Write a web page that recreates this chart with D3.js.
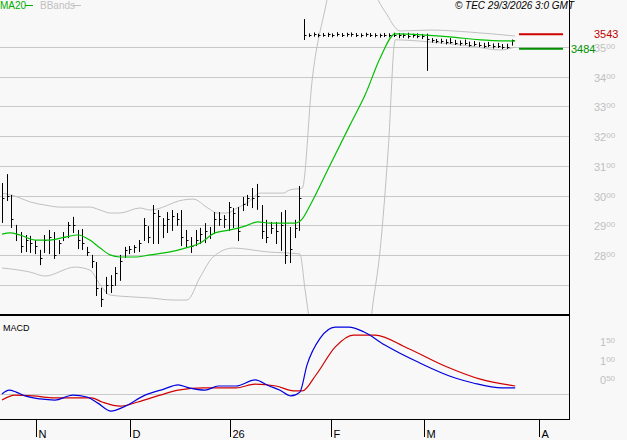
<!DOCTYPE html>
<html><head><meta charset="utf-8">
<script src="https://cdn.jsdelivr.net/npm/d3@7/dist/d3.min.js"></script>
<style>body{margin:0;background:#f8f8f8}svg{display:block;font-family:"Liberation Sans",Arial,sans-serif}</style>
</head><body><svg id="c" width="627" height="440"></svg>
<script>
const highs=[3042,3072,3002,2901,2877,2867,2864,2850,2817,2867,2884,2877,2850,2877,2911,2928,2884,2887,2827,2800,2776,2689,2726,2732,2759,2800,2827,2830,2833,2850,2924,2897,2968,2951,2924,2944,2951,2941,2951,2884,2860,2884,2891,2907,2894,2944,2944,2934,2978,2958,2961,2995,3002,3025,3039,2968,2918,2911,2911,2944,2951,2894,2918,3032,
3594,3546,3549,3545,3547,3548,3546,3550,3547,3548,3549,3547,3546,3548,3547,3546,3545,3547,3546,3548,3547,3546,3548,3545,3546,3544,
3545,3530,3527,3528,3526,3530,3524,3522,3525,3518,3520,3516,3514,3517,3512,3514,3510,3511,3525];
const lows=[2911,2985,2894,2850,2810,2813,2810,2806,2769,2810,2806,2790,2806,2850,2860,2877,2823,2820,2800,2759,2665,2628,2672,2675,2699,2716,2793,2806,2810,2813,2850,2843,2840,2840,2860,2877,2884,2901,2833,2830,2810,2833,2840,2843,2857,2874,2901,2894,2884,2894,2850,2951,2968,2961,2955,2857,2843,2874,2840,2817,2773,2776,2860,2884,
3527,3537,3538,3536,3538,3537,3536,3539,3537,3538,3538,3537,3536,3538,3537,3536,3535,3537,3536,3537,3533,3534,3532,3535,3533,3530,
3423,3518,3516,3515,3512,3514,3510,3508,3510,3504,3506,3503,3500,3503,3498,3500,3496,3497,3508];
const closes=[2990,3000,2920,2870,2830,2850,2840,2830,2790,2850,2860,2800,2840,2860,2900,2900,2850,2840,2810,2780,2690,2650,2700,2700,2740,2780,2815,2820,2825,2840,2900,2860,2940,2930,2900,2920,2930,2920,2860,2850,2830,2850,2870,2880,2870,2920,2920,2920,2960,2940,2880,2970,2990,2990,3000,2880,2860,2890,2880,2900,2800,2820,2890,2990,
3540,3542,3543,3541,3542,3543,3541,3544,3542,3543,3543,3542,3541,3543,3542,3541,3540,3542,3541,3542,3540,3539,3538,3540,3538,3536,
3528,3522,3520,3519,3516,3518,3514,3512,3514,3508,3510,3507,3504,3507,3502,3504,3500,3501,3522];
const ma20=[[0,2870],[1.7,2874],[3.8,2867],[7,2850],[10.2,2850],[13.3,2860],[16.1,2867],[18.6,2850],[20.8,2823],[22.9,2800],[25,2793],[28.2,2793],[31.4,2800],[35.6,2810],[38.8,2823],[42,2840],[45.1,2874],[48.3,2884],[51.5,2897],[54.2,2911],[56.8,2907],[60,2907],[62.1,2907],[63.6,2921],[65.3,2968],[69.5,3103],[73.7,3237],[76.9,3338],[80.1,3463],[83.3,3544],[89.6,3540],[94.9,3534],[101.3,3524],[108.7,3520]];
const bbUpper=[[0,3008],[2.75,2998],[6,2978],[9.1,2968],[12.3,2961],[18.6,2961],[20.8,2951],[22.9,2941],[25,2941],[29.2,2958],[31.4,2951],[38.4,2985],[40.5,2988],[43.6,2958],[45.6,2941],[47.7,2941],[49.8,2958],[51.9,2975],[54.7,3008],[59.5,3008],[61,3019],[63.6,3025],[65.7,3389],[68.4,3625],[70.6,3760],[73.7,3800],[81.1,3620],[84.3,3554],[90.7,3557],[99.2,3550],[108.7,3537]];
const bbLower=[[0,2756],[6,2742],[9.1,2729],[15.5,2759],[18.6,2749],[20.8,2699],[22.9,2665],[28.2,2658],[31.4,2655],[36.2,2648],[39.2,2648],[42,2726],[44.7,2793],[49,2823],[56.2,2810],[63.1,2803],[64.2,2682],[65.3,2560],[70,2300],[76.3,2300],[78.4,2614],[80.1,2817],[81.8,3153],[83.3,3524],[90.7,3517],[99.2,3503],[105.5,3490],[108.7,3500]];
const macd=[[0,0],[1.5,10],[3,5],[4.9,-5],[8.1,-13],[11.2,-16],[15,-3],[18,-8],[20.3,-24],[23.1,-45],[25.8,-34],[30.3,-3],[34.3,13],[37.3,24],[39.6,16],[43,10],[45.8,21],[49.6,21],[53.6,37],[56.6,21],[58.9,10],[61.2,-5],[63.1,5],[64.6,76],[67.4,147],[70.6,176],[73.5,176],[76.7,163],[81.1,129],[88.1,84],[96,42],[99.8,29],[105.9,16],[108.7,16]];
const signal=[[0,-16],[2.75,-3],[6.6,-5],[11.2,-10],[18.9,-10],[21.2,-21],[25,-32],[28.8,-21],[33.5,-3],[37.3,10],[42.8,16],[49.6,16],[53.6,26],[58,21],[62.1,8],[63.6,8],[66.5,50],[70.6,124],[74.4,155],[79,155],[85.8,121],[94.3,71],[101.3,39],[108.7,21]];
const monthTicks=[[7.2,"N"],[27.1,"D"],[48.3,"26"],[69.7,"F"],[89.4,"M"],[113.8,"A"]];
const priceTicks=[2800,2900,3000,3100,3200,3300,3400,3500];
const priceGrid=[2700,2800,2900,3000,3100,3200,3300,3400,3500];
const macdTicks=[50,100,150];
const lastPrice=3543, lastMA=3484;

const svg=d3.select("#c");
const W=569;
const x=d3.scaleLinear().domain([-0.42,120.1]).range([0,W]);
const y=d3.scaleLinear().domain([3500,2700]).range([47,284.6]);
const ym=d3.scaleLinear().domain([0,50]).range([394,375]);
const grid="#c8c8c8";
svg.append("defs").html('<clipPath id="cp"><rect x="0" y="0" width="569" height="314"/></clipPath><clipPath id="cm"><rect x="0" y="316" width="569" height="103"/></clipPath>');
svg.append("g").selectAll("line").data(priceGrid).join("line").attr("x1",0).attr("x2",W).attr("y1",d=>Math.round(y(d))+.5).attr("y2",d=>Math.round(y(d))+.5).attr("stroke",grid);
svg.append("line").attr("x1",0).attr("x2",W).attr("y1",Math.round(ym(0))+.5).attr("y2",Math.round(ym(0))+.5).attr("stroke",grid);
const gp=svg.append("g").attr("clip-path","url(#cp)");
const ln=d3.line().x(d=>x(d[0])).curve(d3.curveMonotoneX);
gp.append("path").attr("d",ln.y(d=>y(d[1]))(bbUpper)).attr("fill","none").attr("stroke","#c0c0c0");
gp.append("path").attr("d",ln.y(d=>y(d[1]))(bbLower)).attr("fill","none").attr("stroke","#c0c0c0");
const bars=gp.append("g").attr("stroke","#000");
highs.forEach((h,i)=>{
  const cx=Math.round(x(i))+.5;
  bars.append("line").attr("x1",cx).attr("x2",cx).attr("y1",y(h)).attr("y2",y(lows[i])+1);
  const cy=Math.round(y(closes[i]))+.5;
  bars.append("line").attr("x1",cx).attr("x2",cx+2).attr("y1",cy).attr("y2",cy);
});
gp.append("path").attr("d",ln.y(d=>y(d[1]))(ma20)).attr("fill","none").attr("stroke","#00c000").attr("stroke-width",1.2);
const gm=svg.append("g").attr("clip-path","url(#cm)");
gm.append("path").attr("d",ln.y(d=>ym(d[1]))(signal)).attr("fill","none").attr("stroke","#d00000").attr("stroke-width",1.2);
gm.append("path").attr("d",ln.y(d=>ym(d[1]))(macd)).attr("fill","none").attr("stroke","#0000e0").attr("stroke-width",1.2);
svg.append("line").attr("x1",W+.5).attr("x2",W+.5).attr("y1",0).attr("y2",420).attr("stroke","#000");
svg.append("line").attr("x1",0).attr("x2",W).attr("y1",315).attr("y2",315).attr("stroke","#000").attr("stroke-width",2);
svg.append("line").attr("x1",0).attr("x2",W+1).attr("y1",419.5).attr("y2",419.5).attr("stroke","#000");
monthTicks.forEach(([i,t])=>{
  const tx=Math.round(x(i))+.5;
  svg.append("line").attr("x1",tx).attr("x2",tx).attr("y1",420).attr("y2",437).attr("stroke","#000");
  svg.append("text").attr("x",tx+2).attr("y",438).attr("font-size",11).text(t);
});
function supLabel(v,yy){
  const s=String(v);
  const t=svg.append("text").attr("x",594).attr("y",yy).attr("fill","#c0c0c0").attr("font-size",11);
  t.append("tspan").text(s.slice(0,s.length-2));
  t.append("tspan").attr("font-size",8).attr("dy",-3).text(s.slice(-2));
}
priceTicks.forEach(v=>supLabel(v,y(v)+5));
macdTicks.forEach(v=>{const s=String(v).padStart(3,"0");const t=svg.append("text").attr("x",600).attr("y",ym(v)+9).attr("fill","#c0c0c0").attr("font-size",11);t.append("tspan").text(s.slice(0,1));t.append("tspan").attr("font-size",8).attr("dy",-3).text(s.slice(1));});
svg.append("line").attr("x1",519).attr("x2",563).attr("y1",y(lastPrice)).attr("y2",y(lastPrice)).attr("stroke","#d00000").attr("stroke-width",2);
svg.append("text").attr("x",594).attr("y",y(lastPrice)+4).attr("fill","#c00000").attr("font-size",11).text(lastPrice);
svg.append("line").attr("x1",519).attr("x2",563).attr("y1",y(lastMA)-3).attr("y2",y(lastMA)-3).attr("stroke","#009000").attr("stroke-width",2);
svg.append("rect").attr("x",570).attr("y",y(lastMA)-10).attr("width",22).attr("height",12).attr("fill","#f8f8f8");
svg.append("text").attr("x",571).attr("y",y(lastMA)+1).attr("fill","#009000").attr("font-size",11).text(lastMA);
svg.append("text").attr("x",0).attr("y",9).attr("fill","#00b000").attr("font-size",10).text("MA20");
svg.append("line").attr("x1",25).attr("x2",33).attr("y1",5.5).attr("y2",5.5).attr("stroke","#00b000");
svg.append("text").attr("x",40).attr("y",9).attr("fill","#c0c0c0").attr("font-size",10).text("BBands");
svg.append("line").attr("x1",73).attr("x2",81).attr("y1",5.5).attr("y2",5.5).attr("stroke","#c0c0c0");
svg.append("text").attr("x",574).attr("y",9).attr("text-anchor","end").attr("font-style","italic").attr("font-size",10).text("© TEC 29/3/2026 3:0 GMT");
svg.append("text").attr("x",3).attr("y",331).attr("font-size",9).text("MACD");
</script></body></html>
